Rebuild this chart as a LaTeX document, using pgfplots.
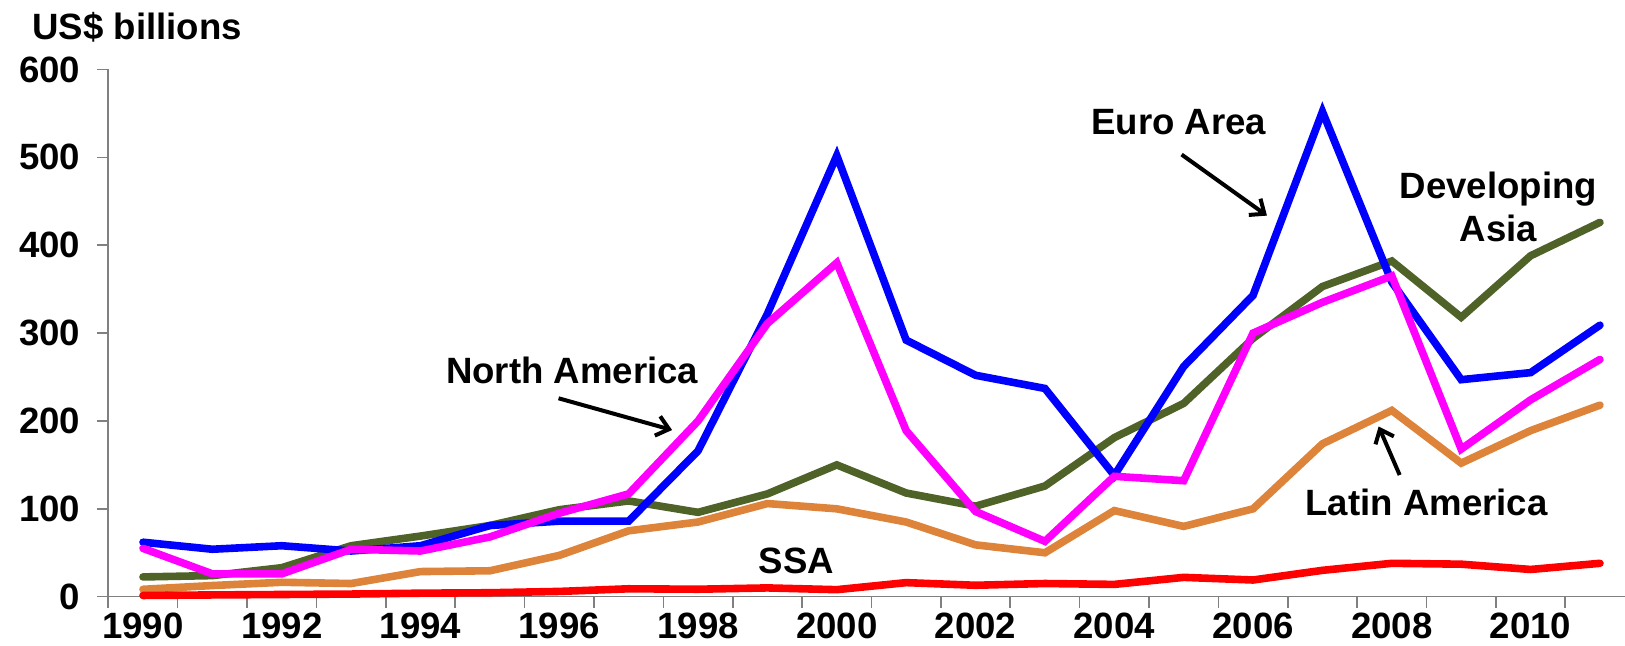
\documentclass[border=0pt]{standalone}
\usepackage{fontspec}
\setmainfont{Liberation Sans}
\usepackage{pgfplots}
\pgfplotsset{compat=1.18}
\usetikzlibrary{arrows.meta}

\definecolor{euro}{RGB}{0,0,255}
\definecolor{nam}{RGB}{255,0,255}
\definecolor{dasia}{RGB}{79,98,40}
\definecolor{latam}{RGB}{221,132,58}
\definecolor{ssa}{RGB}{255,0,0}
\definecolor{axgray}{RGB}{128,128,128}

\newcommand{\lbl}{\bfseries\fontsize{18.3}{21.6}\selectfont}

% one row per year, values in US$ billions
\pgfplotstableread{
year euro nam dasia latam ssa
1990 62  55  22.5 8.4  1.4
1991 54  26  24   12.7 2
1992 58  26  33   16.4 2.5
1993 52  54  58   15   3
1994 58  52  69   28.6 4
1995 81  68  81   29.5 4.5
1996 86  95  99   47   6
1997 86  117 109  75   9
1998 166 200 96   85   8.5
1999 322 311 117  106  10
2000 502 380 150  100  8
2001 292 189 118  85   16
2002 252 97  103  59   13
2003 237 63  126  50   15
2004 138 137 181  98   14
2005 262 132 220  80   22
2006 343 300 294  100  19
2007 552 335 353  174  30
2008 358 365 382  212  38
2009 247 168 318  152  37
2010 255 224 388  189  31
2011 309 270 426  218  38
}\flows

\begin{document}
\begin{tikzpicture}
\path[use as bounding box] (-54.15pt,-24.65pt) rectangle (758.35pt,298.35pt);
\begin{axis}[
  scale only axis,
  width=758.35pt, height=263.6pt,
  xmin=1989.5, xmax=2011.361,
  ymin=0, ymax=600,
  axis lines*=left,
  axis line style={draw=axgray, line width=0.8pt},
  clip=false,
  xtick={1990,1992,...,2010},
  minor xtick={1989.5,1990.5,...,2011.5},
  ytick={0,100,...,600},
  tick align=outside,
  major tick length=5.5pt,
  minor tick length=5.5pt,
  every major x tick/.append style={draw=none},
  tick style={draw=axgray, line width=0.8pt},
  x tick label style={/pgf/number format/1000 sep=, yshift=1pt},
  y tick label style={xshift=-5pt},
  ticklabel style={font=\lbl},
  /pgf/number format/assume math mode=true,
  every axis plot/.append style={line width=3.8pt, line cap=round},
]
\addplot[dasia] table[x=year, y=dasia] {\flows};
\addplot[latam] table[x=year, y=latam] {\flows};
\addplot[euro] table[x=year, y=euro] {\flows};
\addplot[nam] table[x=year, y=nam] {\flows};
\addplot[ssa] table[x=year, y=ssa] {\flows};

\node[anchor=base west, inner sep=0, font=\lbl] at (axis cs:1988.40,634.7) {US\$ billions};
\node[anchor=base, inner sep=0, font=\lbl] at (axis cs:1996.185,242.9) {North America};
\node[anchor=base, inner sep=0, font=\lbl] at (axis cs:2004.93,525.8) {Euro Area};
\node[anchor=base, inner sep=0, font=\lbl] at (axis cs:2009.536,452.9) {Developing};
\node[anchor=base, inner sep=0, font=\lbl] at (axis cs:2009.536,403.8) {Asia};
\node[anchor=base, inner sep=0, font=\lbl] at (axis cs:2008.50,92.3) {Latin America};
\node[anchor=base, inner sep=0, font=\lbl] at (axis cs:1999.42,26.2) {SSA};

\draw[line width=2pt, -{Straight Barb[length=6pt,width=10pt]}] (axis cs:1995.99,225.8) -- (axis cs:1997.626,189.7);
\draw[line width=2pt, -{Straight Barb[length=6pt,width=10pt]}] (axis cs:2004.97,503.2) -- (axis cs:2006.20,433.7);
\draw[line width=2pt, -{Straight Barb[length=6pt,width=10pt]}] (axis cs:2008.113,138.5) -- (axis cs:2007.81,193.7);
\end{axis}
\end{tikzpicture}
\end{document}
